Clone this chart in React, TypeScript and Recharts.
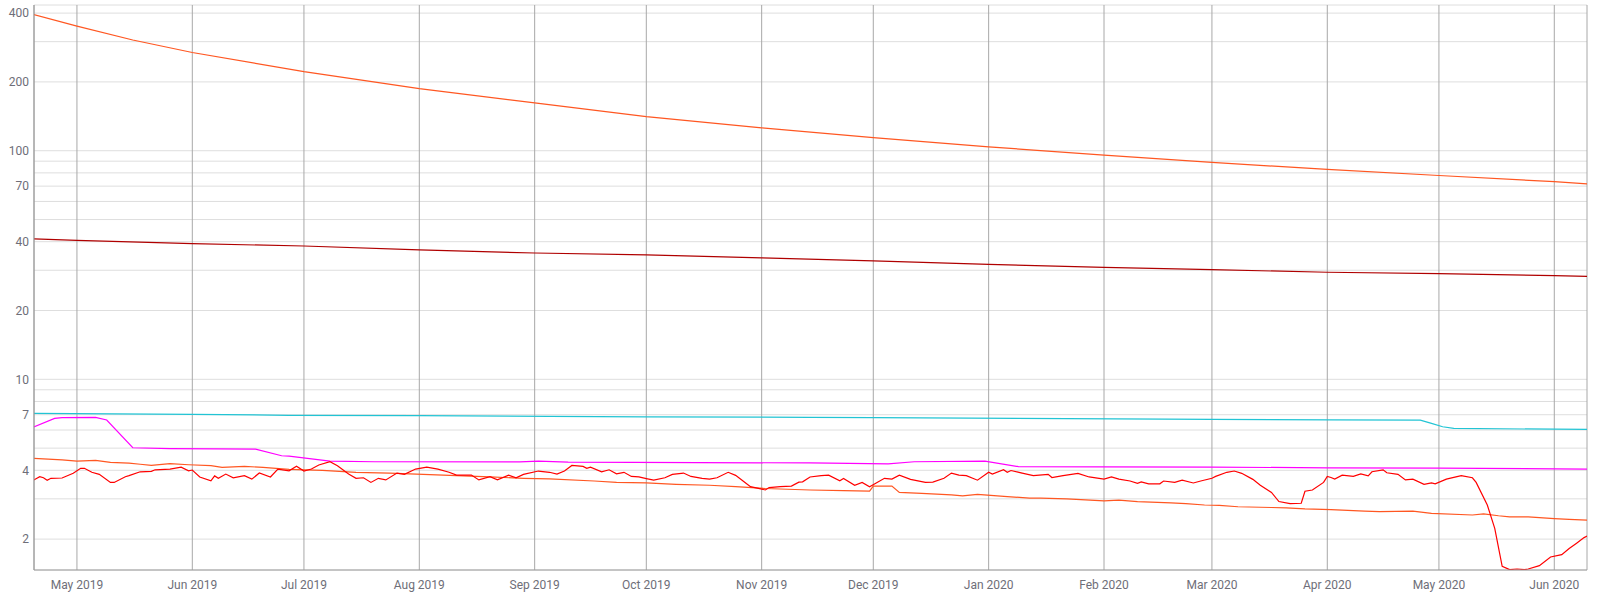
import React from 'react';
import { LineChart, Line, XAxis, YAxis, CartesianGrid } from 'recharts';

const monthNames = ['Jan', 'Feb', 'Mar', 'Apr', 'May', 'Jun', 'Jul', 'Aug', 'Sep', 'Oct', 'Nov', 'Dec'];
const monthTickDates = [
  '2019-05-01', '2019-06-01', '2019-07-01', '2019-08-01', '2019-09-01', '2019-10-01', '2019-11-01',
  '2019-12-01', '2020-01-01', '2020-02-01', '2020-03-01', '2020-04-01', '2020-05-01', '2020-06-01',
];
const yGridValues = [2, 3, 4, 5, 6, 7, 8, 9, 10, 20, 30, 40, 50, 60, 70, 80, 90, 100, 200, 300, 400];
const yLabelValues = [2, 4, 7, 10, 20, 40, 70, 100, 200, 400];

const topDates = ['2019-04-19', '2019-05-01', '2019-05-16', '2019-06-01', '2019-07-01', '2019-08-01', '2019-09-01', '2019-10-01', '2019-11-01', '2019-12-01', '2020-01-01', '2020-02-01', '2020-03-01', '2020-04-01', '2020-05-01', '2020-06-01', '2020-06-10'];
const topValues = [396, 351, 305, 269, 222, 187, 162, 141, 126, 114, 104, 95.7, 89, 82.8, 77.9, 73.2, 71.5];

const darkDates = ['2019-04-19', '2019-05-01', '2019-06-01', '2019-07-01', '2019-08-01', '2019-09-01', '2019-10-01', '2019-11-01', '2019-12-01', '2020-01-01', '2020-02-01', '2020-03-01', '2020-04-01', '2020-05-01', '2020-06-01', '2020-06-10'];
const darkValues = [41.2, 40.5, 39.2, 38.3, 36.8, 35.7, 35.0, 34.0, 33.0, 31.8, 30.9, 30.2, 29.4, 29.0, 28.4, 28.2];

const cyanDates = ['2019-04-19', '2019-06-01', '2019-06-27', '2019-08-01', '2019-09-05', '2019-10-01', '2019-11-14', '2019-12-01', '2020-01-22', '2020-03-01', '2020-04-02', '2020-04-26', '2020-04-29', '2020-05-02', '2020-05-05', '2020-06-01', '2020-06-10'];
const cyanValues = [7.1, 7.03, 6.96, 6.94, 6.89, 6.85, 6.82, 6.8, 6.73, 6.68, 6.64, 6.63, 6.42, 6.2, 6.1, 6.05, 6.04];

const magentaDates = ['2019-04-19', '2019-04-25', '2019-04-27', '2019-05-06', '2019-05-09', '2019-05-16', '2019-05-26', '2019-06-08', '2019-06-18', '2019-06-25', '2019-06-27', '2019-07-08', '2019-07-20', '2019-08-28', '2019-09-02', '2019-09-10', '2019-10-15', '2019-11-14', '2019-12-05', '2019-12-12', '2019-12-31', '2020-01-09', '2020-02-01', '2020-03-01', '2020-04-01', '2020-05-01', '2020-06-10'];
const magentaValues = [6.15, 6.75, 6.8, 6.82, 6.64, 5.02, 4.98, 4.96, 4.95, 4.63, 4.61, 4.39, 4.36, 4.35, 4.39, 4.34, 4.32, 4.31, 4.27, 4.36, 4.39, 4.15, 4.14, 4.13, 4.1, 4.09, 4.05];

const orangeDates = ['2019-04-19', '2019-04-27', '2019-05-01', '2019-05-06', '2019-05-10', '2019-05-15', '2019-05-18', '2019-05-21', '2019-05-26', '2019-05-31', '2019-06-06', '2019-06-09', '2019-06-15', '2019-06-20', '2019-06-27', '2019-07-06', '2019-07-15', '2019-07-24', '2019-08-02', '2019-08-11', '2019-08-20', '2019-08-29', '2019-09-05', '2019-09-17', '2019-09-23', '2019-10-01', '2019-10-09', '2019-10-18', '2019-10-25', '2019-11-02', '2019-11-14', '2019-11-23', '2019-11-30', '2019-12-01', '2019-12-06', '2019-12-08', '2019-12-14', '2019-12-22', '2019-12-25', '2019-12-29', '2020-01-06', '2020-01-12', '2020-01-15', '2020-01-22', '2020-02-01', '2020-02-05', '2020-02-10', '2020-02-19', '2020-02-23', '2020-02-28', '2020-03-03', '2020-03-08', '2020-03-17', '2020-03-21', '2020-03-26', '2020-04-02', '2020-04-11', '2020-04-15', '2020-04-24', '2020-04-29', '2020-05-10', '2020-05-13', '2020-05-17', '2020-05-20', '2020-05-25', '2020-06-01', '2020-06-05', '2020-06-10'];
const orangeValues = [4.51, 4.44, 4.39, 4.42, 4.33, 4.3, 4.25, 4.2, 4.28, 4.23, 4.19, 4.12, 4.16, 4.12, 4.04, 4.0, 3.92, 3.89, 3.84, 3.79, 3.74, 3.69, 3.67, 3.59, 3.54, 3.52, 3.47, 3.44, 3.39, 3.33, 3.28, 3.26, 3.24, 3.41, 3.41, 3.2, 3.17, 3.12, 3.09, 3.14, 3.07, 3.02, 3.02, 3.0, 2.94, 2.96, 2.92, 2.88, 2.86, 2.82, 2.81, 2.77, 2.75, 2.74, 2.71, 2.69, 2.65, 2.64, 2.65, 2.59, 2.55, 2.58, 2.53, 2.5, 2.5, 2.46, 2.44, 2.42];

const redDates = ['2019-04-19', '2019-04-21', '2019-04-22', '2019-04-23', '2019-04-24', '2019-04-27', '2019-04-30', '2019-05-02', '2019-05-03', '2019-05-05', '2019-05-07', '2019-05-10', '2019-05-11', '2019-05-14', '2019-05-15', '2019-05-18', '2019-05-21', '2019-05-22', '2019-05-26', '2019-05-29', '2019-05-31', '2019-06-01', '2019-06-03', '2019-06-06', '2019-06-07', '2019-06-08', '2019-06-10', '2019-06-12', '2019-06-15', '2019-06-17', '2019-06-19', '2019-06-22', '2019-06-24', '2019-06-27', '2019-06-29', '2019-07-01', '2019-07-03', '2019-07-05', '2019-07-08', '2019-07-10', '2019-07-13', '2019-07-15', '2019-07-17', '2019-07-19', '2019-07-21', '2019-07-23', '2019-07-26', '2019-07-28', '2019-07-31', '2019-08-03', '2019-08-06', '2019-08-09', '2019-08-11', '2019-08-15', '2019-08-17', '2019-08-20', '2019-08-22', '2019-08-25', '2019-08-27', '2019-08-29', '2019-09-02', '2019-09-05', '2019-09-07', '2019-09-09', '2019-09-11', '2019-09-14', '2019-09-15', '2019-09-16', '2019-09-19', '2019-09-21', '2019-09-23', '2019-09-25', '2019-09-27', '2019-09-29', '2019-10-01', '2019-10-03', '2019-10-06', '2019-10-08', '2019-10-11', '2019-10-13', '2019-10-16', '2019-10-18', '2019-10-20', '2019-10-23', '2019-10-25', '2019-10-27', '2019-10-29', '2019-11-02', '2019-11-03', '2019-11-06', '2019-11-09', '2019-11-11', '2019-11-12', '2019-11-14', '2019-11-17', '2019-11-19', '2019-11-22', '2019-11-23', '2019-11-26', '2019-11-28', '2019-11-30', '2019-12-04', '2019-12-06', '2019-12-08', '2019-12-11', '2019-12-15', '2019-12-17', '2019-12-20', '2019-12-22', '2019-12-24', '2019-12-26', '2019-12-29', '2020-01-01', '2020-01-02', '2020-01-05', '2020-01-06', '2020-01-07', '2020-01-10', '2020-01-13', '2020-01-17', '2020-01-18', '2020-01-21', '2020-01-25', '2020-01-28', '2020-02-01', '2020-02-03', '2020-02-05', '2020-02-08', '2020-02-10', '2020-02-11', '2020-02-13', '2020-02-16', '2020-02-17', '2020-02-20', '2020-02-22', '2020-02-25', '2020-02-27', '2020-03-01', '2020-03-02', '2020-03-05', '2020-03-07', '2020-03-09', '2020-03-12', '2020-03-14', '2020-03-17', '2020-03-19', '2020-03-22', '2020-03-25', '2020-03-26', '2020-03-28', '2020-03-31', '2020-04-01', '2020-04-02', '2020-04-03', '2020-04-05', '2020-04-08', '2020-04-10', '2020-04-12', '2020-04-13', '2020-04-16', '2020-04-17', '2020-04-20', '2020-04-22', '2020-04-24', '2020-04-27', '2020-04-29', '2020-04-30', '2020-05-03', '2020-05-07', '2020-05-10', '2020-05-11', '2020-05-14', '2020-05-16', '2020-05-18', '2020-05-20', '2020-05-22', '2020-05-24', '2020-05-25', '2020-05-28', '2020-05-31', '2020-06-03', '2020-06-05', '2020-06-07', '2020-06-09', '2020-06-10'];
const redValues = [3.6, 3.75, 3.71, 3.62, 3.69, 3.7, 3.88, 4.08, 4.08, 3.92, 3.84, 3.54, 3.54, 3.75, 3.79, 3.94, 3.96, 4.02, 4.05, 4.13, 3.98, 4.01, 3.74, 3.6, 3.78, 3.69, 3.85, 3.71, 3.79, 3.66, 3.89, 3.74, 4.05, 3.98, 4.17, 3.97, 4.05, 4.22, 4.36, 4.19, 3.85, 3.69, 3.71, 3.54, 3.69, 3.63, 3.89, 3.84, 4.05, 4.13, 4.05, 3.92, 3.81, 3.81, 3.63, 3.75, 3.63, 3.81, 3.71, 3.84, 3.97, 3.92, 3.85, 3.97, 4.2, 4.16, 4.08, 4.13, 3.94, 4.02, 3.86, 3.92, 3.76, 3.74, 3.68, 3.62, 3.71, 3.84, 3.89, 3.76, 3.69, 3.66, 3.71, 3.92, 3.8, 3.59, 3.39, 3.28, 3.36, 3.39, 3.41, 3.55, 3.56, 3.74, 3.79, 3.81, 3.6, 3.68, 3.44, 3.54, 3.39, 3.69, 3.66, 3.81, 3.65, 3.54, 3.55, 3.69, 3.89, 3.81, 3.79, 3.62, 3.92, 3.85, 4.02, 3.92, 3.99, 3.89, 3.79, 3.84, 3.72, 3.79, 3.88, 3.74, 3.66, 3.74, 3.66, 3.59, 3.51, 3.56, 3.49, 3.49, 3.59, 3.54, 3.62, 3.52, 3.59, 3.69, 3.76, 3.92, 3.97, 3.88, 3.65, 3.44, 3.2, 2.92, 2.86, 2.87, 3.24, 3.28, 3.54, 3.76, 3.72, 3.66, 3.81, 3.76, 3.86, 3.78, 3.94, 4.02, 3.9, 3.84, 3.63, 3.66, 3.47, 3.52, 3.49, 3.66, 3.79, 3.71, 3.54, 2.82, 2.23, 1.52, 1.47, 1.48, 1.47, 1.48, 1.53, 1.67, 1.71, 1.82, 1.92, 2.03, 2.07];

const toTs = (d: string) => Date.parse(d + 'T00:00:00Z');
const build = (dates: string[], values: number[]) => dates.map((d, i) => ({ t: toTs(d), v: values[i] }));

const topData = build(topDates, topValues);
const darkData = build(darkDates, darkValues);
const cyanData = build(cyanDates, cyanValues);
const magentaData = build(magentaDates, magentaValues);
const orangeData = build(orangeDates, orangeValues);
const redData = build(redDates, redValues);

const monthTicks = monthTickDates.map(toTs);
const xDomain = [Date.UTC(2019, 3, 19, 11), Date.UTC(2020, 5, 9, 19)];
const yDomain = [1.465, 434];

const fmtMonth = (t: number) => {
  const d = new Date(t);
  return monthNames[d.getUTCMonth()] + ' ' + d.getUTCFullYear();
};
const fmtY = (v: number) => (yLabelValues.includes(v) ? String(v) : '');

const tickStyle = { fontSize: 12, fill: '#6e6e78', fontFamily: 'Roboto' };

export default function App() {
  return (
    <div style={{ position: 'absolute', left: 0, top: 0, width: 1600, height: 594, background: '#fff' }}>
      <LineChart width={1600} height={594} margin={{ top: 5, right: 13, bottom: 0, left: 0 }} style={{ fontFamily: 'Roboto' }}>
        <CartesianGrid vertical={false} stroke="#dedede" strokeWidth={1} />
        <CartesianGrid horizontal={false} stroke="#a8a8a8" strokeWidth={1} />
        <XAxis
          dataKey="t"
          type="number"
          scale="time"
          domain={xDomain}
          allowDataOverflow
          ticks={monthTicks}
          tickFormatter={fmtMonth}
          interval={0}
          height={24}
          tickLine={false}
          tickSize={0}
          tickMargin={10}
          stroke="#9a9a9a"
          tick={tickStyle}
        />
        <YAxis
          dataKey="v"
          type="number"
          scale="log"
          domain={yDomain}
          allowDataOverflow
          ticks={yGridValues}
          tickFormatter={fmtY}
          interval={0}
          width={34}
          tickLine={false}
          tickSize={0}
          tickMargin={5}
          stroke="#9a9a9a"
          tick={tickStyle}
        />
        <Line data={topData} dataKey="v" stroke="#ff5722" strokeWidth={1.2} dot={false} isAnimationActive={false} />
        <Line data={darkData} dataKey="v" stroke="#b00000" strokeWidth={1.2} dot={false} isAnimationActive={false} />
        <Line data={cyanData} dataKey="v" stroke="#22c4d4" strokeWidth={1.2} dot={false} isAnimationActive={false} />
        <Line data={magentaData} dataKey="v" stroke="#ff00ff" strokeWidth={1.2} dot={false} isAnimationActive={false} />
        <Line data={orangeData} dataKey="v" stroke="#ff5722" strokeWidth={1.2} dot={false} isAnimationActive={false} />
        <Line data={redData} dataKey="v" stroke="#ff0000" strokeWidth={1.2} dot={false} isAnimationActive={false} />
      </LineChart>
    </div>
  );
}
